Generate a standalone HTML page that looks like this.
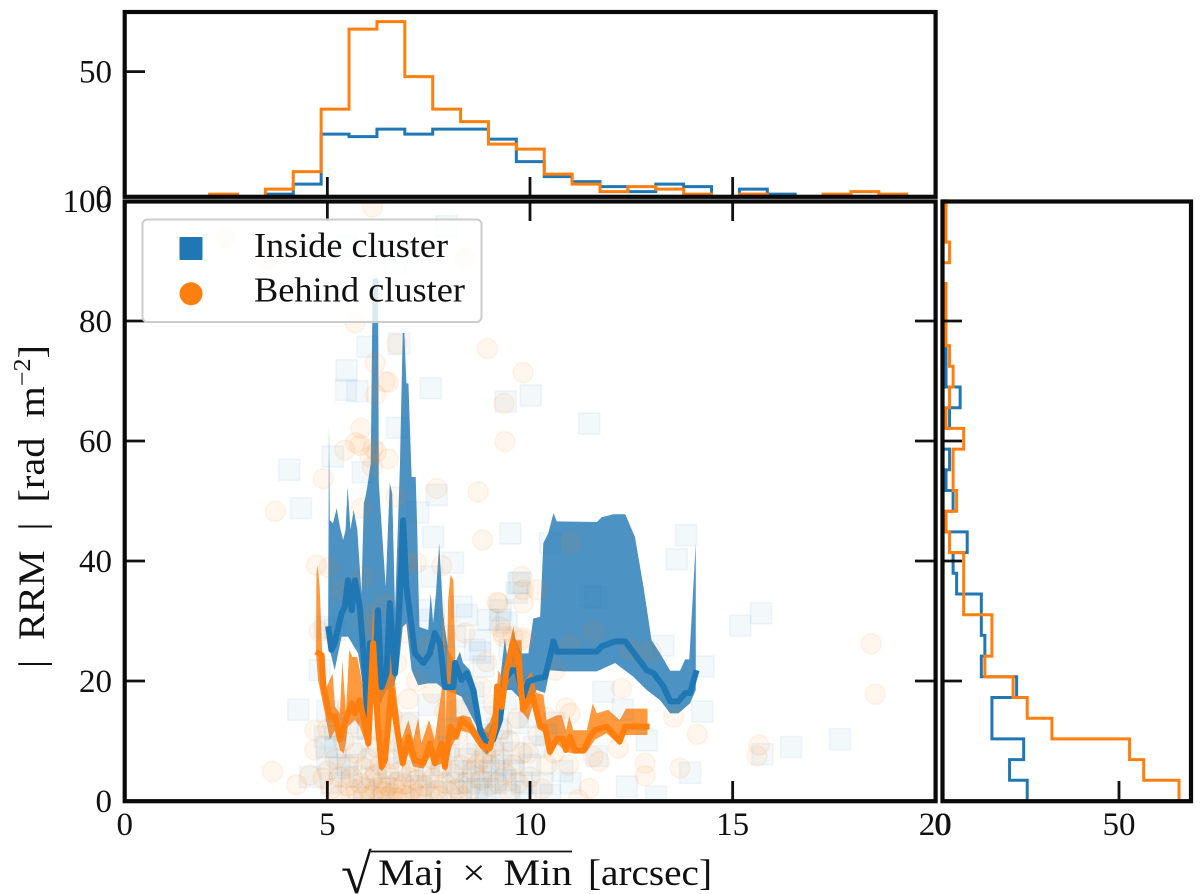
<!DOCTYPE html>
<html lang="en">
<head>
<meta charset="utf-8">
<title>RRM vs beam size</title>
<style>
html,body{margin:0;padding:0;background:#fff;}
svg{display:block;}
text{font-family:"Liberation Serif","DejaVu Serif",serif;fill:#111;}
</style>
</head>
<body>
<svg id="chart" xmlns="http://www.w3.org/2000/svg" width="1200" height="894" viewBox="0 0 1200 894">
  <defs>
    <clipPath id="main-clip"><rect x="124.7" y="201.5" width="810.9" height="599.5"/></clipPath>
  </defs>
  <rect x="0" y="0" width="1200" height="894" fill="#ffffff"/>
  <g id="scatter-band-layer" clip-path="url(#main-clip)"></g>
  <g id="hist-layer"></g>
  <g id="tick-layer"></g>
  <g fill="none" stroke="#0a0a0a" stroke-width="4.2">
    <rect x="124.7" y="12" width="810.9" height="184.8"/>
    <rect x="124.7" y="201.5" width="810.9" height="599.7"/>
    <rect x="942.5" y="201.5" width="248.5" height="599.7"/>
  </g>
  <g>
    <rect x="142.5" y="219.5" width="339" height="102.5" rx="5" ry="5" fill="#ffffff" fill-opacity="0.8" stroke="#cccccc" stroke-width="2"/>
    <rect x="179.5" y="237" width="23" height="23" rx="1" fill="#1f77b4"/>
    <circle cx="191" cy="293.7" r="11.5" fill="#ff7f0e"/>
    <text x="254" y="257" font-size="35" textLength="194" lengthAdjust="spacingAndGlyphs">Inside cluster</text>
    <text x="254" y="301.5" font-size="35" textLength="211" lengthAdjust="spacingAndGlyphs">Behind cluster</text>
  </g>
  <g id="label-layer"></g>
  <text transform="translate(44,668) rotate(-90)" font-size="37" word-spacing="9" textLength="323" lengthAdjust="spacingAndGlyphs">| RRM | [rad m<tspan font-size="24" dy="-14">−2</tspan><tspan dy="14">]</tspan></text>
  <g>
    <text x="341" y="893" font-size="56">√</text>
    <line x1="371" y1="851.5" x2="572" y2="851.5" stroke="#111" stroke-width="1.8"/>
    <text x="378" y="885" font-size="37" word-spacing="7" textLength="194" lengthAdjust="spacingAndGlyphs">Maj × Min</text>
    <text x="588" y="885" font-size="37" textLength="124" lengthAdjust="spacingAndGlyphs">[arcsec]</text>
  </g>
</svg>
<script>
// Axis tick values
const mainXTicks = [0, 5, 10, 15, 20];
const mainYTicks = [0, 20, 40, 60, 80, 100];
const topHistYTicks = [0, 50];
const rightHistXTicks = [0, 50];

// Top histogram (sqrt(Maj x Min)) bins: start, width and counts
const xBinStart = 2.095;
const xBinWidth = 0.688;
const topInsideCounts = [0,0,1,5,25,24,27,25,27,27,23,14,8,6,4,2,5,4,0,3,1,0,0,0,0];
const topBehindCounts = [1,0,3,10,35,67,70,48,35,30,21,19,9,5,2,4,3,1,0,1,0,0,1,2,1];

// Right histogram (|RRM|) bins
const yBinStart = 0;
const yBinWidth = 3.45;
const rightInsideCounts = [24,19,23,14,14,21,11,12,11,11,4,3,7,1,3,1,2,0,2,5,1,1,0,0,0,0,0,0,0];
const rightBehindCounts = [67,57,53,31,24,20,12,14,14,6,6,6,2,1,4,3,3,6,1,2,3,2,1,1,1,0,2,1,1];

// Rolling median [arcsec, RRM]
const insideMedian = [[5.02,29.1],[5.10,25.2],[5.18,26.3],[5.35,31.3],[5.43,32.4],[5.51,36.8],[5.60,31.8],[5.68,36.8],[5.80,32.4],[5.93,21.3],[5.99,12.4],[6.05,26.3],[6.17,19],[6.25,31.8],[6.34,19],[6.46,21.3],[6.54,33],[6.67,21.3],[6.77,31.3],[6.87,46.8],[6.95,35.7],[7.08,29.1],[7.16,24.6],[7.37,23],[7.53,24.6],[7.65,28],[7.78,26.3],[7.90,19],[8.11,19],[8.15,23],[8.31,20.2],[8.44,21.3],[8.60,18.5],[8.77,11.8],[8.93,9.6],[9.09,10.2],[9.26,13.5],[9.38,20.2],[9.55,21.8],[9.67,21.8],[9.83,17.4],[9.96,19.9],[10.16,20.4],[10.37,20.7],[10.49,24],[10.58,26.6],[10.66,24.9],[11.65,24.9],[11.77,25.8],[12.10,26.6],[12.35,26.6],[12.88,21.8],[13.05,21.3],[13.29,19.1],[13.46,16.6],[13.66,16.6],[13.83,18],[13.95,18],[14.11,21.8]];
const behindMedian = [[4.72,24.9],[4.86,24.3],[4.90,19.1],[5.06,14.1],[5.19,14.1],[5.31,10.2],[5.43,13],[5.51,14.6],[5.60,16.3],[5.68,14.6],[5.80,16.8],[6.01,9.6],[6.13,26.3],[6.25,12.4],[6.34,5.7],[6.42,6.8],[6.58,18.5],[6.71,12.4],[6.86,6.3],[7.0,10.7],[7.16,6.8],[7.37,6.3],[7.53,9.6],[7.65,6.3],[7.82,9.6],[7.90,5.7],[8.04,12.4],[8.17,10.7],[8.31,13.5],[8.52,12.4],[8.68,10.7],[8.81,9.3],[9.01,8.8],[9.14,12.4],[9.19,19.1],[9.30,15.7],[9.42,21.8],[9.57,26.3],[9.71,23.5],[9.83,15.2],[9.92,16.3],[10.07,17.4],[10.25,12.4],[10.37,12.4],[10.49,8.2],[10.66,10.4],[10.81,10.4],[10.89,8.5],[10.99,10.7],[11.11,8.4],[11.32,8.4],[11.48,10.7],[11.60,11.8],[11.89,12.4],[12.21,9.9],[12.35,12.4],[12.95,12.4]];

// Uncertainty bands: upper edge left to right, lower edge right to left
const insideUpper = [[5.02,29.1],[5.04,62.95],[5.06,46.8],[5.14,46.3],[5.23,48.8],[5.31,45.7],[5.39,43.5],[5.45,45.2],[5.50,52.4],[5.57,45.2],[5.65,48.5],[5.74,45.2],[5.84,34.6],[5.90,49.6],[5.95,51],[6.01,53.5],[6.07,56.3],[6.12,87.1],[6.25,87.1],[6.27,53],[6.34,45.7],[6.44,35.7],[6.54,53],[6.60,51.3],[6.67,31.8],[6.79,55.7],[6.86,78],[6.90,78],[6.95,69.6],[7.0,69.6],[7.08,54],[7.18,54],[7.22,44.6],[7.27,29],[7.49,28.5],[7.55,34.6],[7.61,29.6],[7.68,34.6],[7.76,43],[7.86,30.7],[7.98,25.2],[8.15,23],[8.27,24.9],[8.35,23],[8.52,21.8],[8.68,18.5],[8.81,12.4],[8.97,11.3],[9.09,13.5],[9.18,14.6],[9.30,22.4],[9.38,27.1],[9.47,22.4],[9.57,28.2],[9.79,24.6],[9.96,24.6],[10.08,30.4],[10.25,30.7],[10.33,43],[10.45,44.6],[10.58,48],[10.66,46.6],[11.65,46.5],[11.77,47.3],[12.06,47.8],[12.35,47.8],[12.59,44],[12.80,35.7],[13.0,26.8],[13.21,24.6],[13.46,21.7],[13.70,21.7],[13.83,23.6],[13.93,23.6],[14.09,43]];
const insideLower = [[14.09,18.5],[13.95,16.3],[13.66,14.6],[13.46,14.6],[13.21,16.8],[12.88,18.5],[12.55,20.7],[12.10,23],[11.65,21.6],[10.82,21.6],[10.49,21.8],[10.37,18],[10.16,18.5],[9.92,15.7],[9.71,17.4],[9.55,18.5],[9.34,18.5],[9.22,11.8],[9.05,9.3],[8.93,7.7],[8.77,11.3],[8.52,14.6],[8.31,17.4],[8.11,18],[7.90,18.5],[7.70,19.6],[7.49,19.6],[7.24,19.3],[7.08,21.8],[6.95,29.6],[6.86,29],[6.75,21.8],[6.63,19],[6.46,18.5],[6.34,16.8],[6.21,14.6],[6.13,16.3],[6.03,15.7],[5.98,11.8],[5.88,19],[5.76,24.6],[5.51,27.4],[5.35,27.4],[5.18,21.8],[5.06,25.2]];
const behindUpper = [[4.73,37.7],[4.76,39.3],[4.81,35.7],[4.88,23.5],[4.98,19],[5.13,21.3],[5.19,15.7],[5.31,14.6],[5.37,23.5],[5.46,14.6],[5.54,25.2],[5.62,24],[5.74,24],[5.88,19],[6.01,12.4],[6.13,33],[6.21,20.2],[6.42,19.6],[6.56,25.7],[6.67,19.6],[6.83,10.2],[7.0,13.5],[7.12,10.2],[7.24,13.8],[7.32,9.6],[7.51,13.5],[7.65,10.2],[7.83,19],[7.88,34],[7.92,11.8],[7.98,33.5],[8.04,37.7],[8.11,36.8],[8.15,25.7],[8.19,14],[8.35,14.3],[8.52,14],[8.68,11.8],[8.85,11.8],[9.01,13.2],[9.14,15.7],[9.22,21.8],[9.34,20.2],[9.51,26.8],[9.59,29.1],[9.65,26.8],[9.79,26.8],[9.83,19.6],[10.04,21.6],[10.16,18],[10.33,17.7],[10.41,13.5],[10.66,14.3],[10.78,14.3],[10.89,11.8],[10.97,14.1],[11.07,11.8],[11.40,11.8],[11.55,16.3],[11.65,14.6],[11.93,15.2],[12.21,13.5],[12.37,15.4],[12.90,15.4]];
const behindLower = [[12.90,11],[12.35,11],[12.21,9.3],[11.89,11.3],[11.6,10.2],[11.4,8.2],[11.07,7.9],[10.89,8.2],[10.66,9.6],[10.49,7.4],[10.37,11.3],[10.23,11.9],[10.08,16.3],[9.96,13.5],[9.83,14.6],[9.75,17.4],[9.59,21.8],[9.42,19],[9.30,13.5],[9.18,14.6],[9.01,8.2],[8.93,7.7],[8.77,8.8],[8.52,11.3],[8.27,11.8],[8.07,9.1],[7.92,4.9],[7.82,6.3],[7.65,5.7],[7.53,7.4],[7.37,5.4],[7.12,5.7],[7.0,7.9],[6.86,5.4],[6.71,10.2],[6.58,14.6],[6.46,6.3],[6.34,4.9],[6.25,7.4],[6.13,16.8],[6.01,8.5],[5.80,12.4],[5.68,13.5],[5.51,12.4],[5.41,7.9],[5.31,8.5],[5.19,11.8],[5.06,10.2],[4.94,14.6],[4.77,20.2],[4.72,24.6]];

// Individual sources [arcsec, RRM]
const insidePoints = [[7.94,95.8],[5.47,92.4],[6.67,89.7],[5.99,75.7],[6.77,76.2],[5.47,71.8],[5.46,68.5],[5.74,68.3],[7.55,68.8],[9.40,66.6],[10.02,67.6],[11.46,62.9],[6.72,62.2],[5.14,57.4],[4.06,55.2],[5.87,54.8],[7.70,51],[4.35,48.8],[7.24,48.1],[7.61,44],[9.52,44.6],[8.10,39.7],[10.49,43],[13.85,44.3],[13.62,40.3],[11.63,33.9],[13.29,25.9],[14.28,22.4],[14.25,14.9],[12.88,10.1],[11.81,18.2],[12.29,15.2],[11.65,7.5],[12.39,2.4],[13.11,0.7],[13.95,4.7],[9.75,36.4],[9.67,34.7],[9.26,30.2],[9.42,29.7],[15.19,29.2],[15.7,31.3],[15.73,7.8],[16.44,9],[17.65,10.3],[8.31,32.4],[8.44,31],[8.97,30.2],[9.28,31.8],[9.71,36.3],[7.57,37.4],[4.81,21.8],[11.48,34.2],[4.28,15.2],[4.57,4],[4.94,10.7],[4.98,9],[8.77,26.8],[8.15,27.4],[8.85,22.4],[8.77,24.7],[7.53,30.2],[8.64,25.2],[9.5,25.2],[5.19,28.5],[4.94,29],[7.45,31.8],[5.0,7],[5.2,9],[5.3,5.5],[5.1,3],[5.5,6],[5.7,9],[5.6,4],[5.9,2],[6.1,7],[6.2,4],[6.4,2],[6.5,5.5],[6.8,3],[6.9,8],[7.1,5],[7.3,2.5],[7.5,4],[7.7,1.5],[7.8,6],[8.0,9],[8.1,3],[8.2,5],[8.3,1.5],[8.4,7],[8.5,3],[8.6,5],[8.7,2],[8.8,4],[8.9,6.5],[8.9,1],[9.1,8],[9.1,5],[9.3,10],[9.3,6],[9.4,3.5],[9.5,1],[9.6,8],[9.6,5],[9.8,3],[9.9,1.5],[10.0,6],[10.1,9],[10.3,3],[10.5,1],[10.6,13],[10.8,5],[11.0,3],[6,12],[6.5,10],[7,13],[7.5,16],[8,12],[8.3,15],[8.6,18],[9,14],[9.4,17],[9.7,13],[10,14],[10.4,11],[8.7,9.5],[8.9,11],[9.2,12],[5.5,13],[5.0,15],[5.2,12],[8.95,2],[9.15,3]];
const behindPoints = [[2.47,93.8],[3.5,90.2],[6.11,99],[8.4,90.5],[5.68,79.7],[8.95,75.4],[9.83,71.4],[9.36,66.3],[9.38,59.9],[6.71,76.2],[6.18,73],[6.5,69.8],[6.42,69.9],[6.19,67.7],[5.83,62.1],[5.7,59.7],[5.8,59.3],[5.43,58.5],[6.13,58.8],[6.21,58.2],[6.05,57.4],[6.5,57],[6.11,55.7],[4.9,53.7],[8.72,51.5],[7.7,52.1],[6.69,50.7],[5.84,48.8],[3.72,48.3],[8.83,43.5],[11.0,43.1],[12.26,18.8],[13.54,14],[14.13,11.1],[13.7,5.5],[12.84,6.3],[12.84,4.2],[11.46,2.1],[11.19,0.2],[10.89,15.5],[10.99,14.6],[11.56,28.2],[10.99,26],[12.47,25.2],[12.98,24.9],[10.62,21.8],[9.7,13.8],[9.96,8],[10.41,6],[10.95,6],[11.56,7.4],[11.71,6.6],[12.18,8.8],[9.8,37.4],[9.83,35.2],[10.17,35.2],[9.22,33],[9.83,33],[9.33,28],[9.58,27.4],[9.8,26.8],[4.73,39.3],[5.04,38.9],[4.89,3.8],[4.24,2.7],[4.69,11.8],[4.69,8.5],[4.57,4.3],[3.65,4.9],[4.8,28.3],[5.35,35.2],[5.88,37.4],[6.96,39.7],[7.2,39.7],[7.82,39.2],[9.19,33.1],[9.26,29],[8.4,28],[8.93,23.2],[9.34,27.4],[9.83,27.2],[6.05,31],[6.42,32.7],[6.86,28],[7.45,25.7],[5.97,29.6],[6.12,27.4],[6.71,23],[18.42,26.2],[18.52,17.8],[15.65,9.3],[15.6,7.5],[5.0,5],[5.1,2],[5.2,7],[5.3,4],[5.3,1],[5.4,10],[5.5,6],[5.5,2.5],[5.6,0.8],[5.6,4],[5.7,8],[5.7,1.8],[5.8,3],[5.8,12],[5.9,5.5],[5.9,0.7],[6.0,2],[6.0,7],[6.1,3.5],[6.1,1],[6.2,9],[6.2,4.5],[6.2,1.8],[6.3,0.6],[6.3,3],[6.3,6],[6.4,1.5],[6.4,11],[6.5,2.5],[6.5,0.7],[6.5,4.5],[6.6,1.2],[6.6,7],[6.7,3],[6.7,0.5],[6.7,1.9],[6.8,5],[6.8,9],[6.9,1],[6.9,2.8],[7.0,4],[7.0,0.6],[7.0,13],[7.1,2],[7.1,6.5],[7.2,1.2],[7.2,3.5],[7.3,8],[7.3,0.8],[7.4,5],[7.4,2.5],[7.5,1.2],[7.5,11],[7.6,3.8],[7.6,7],[7.7,1.8],[7.8,5.5],[7.8,0.8],[7.9,3],[7.9,15],[8.0,8],[8.0,1.5],[8.1,4.5],[8.2,2],[8.2,11],[8.3,6],[8.3,0.8],[8.4,3],[8.5,8],[8.5,1.5],[8.6,5],[8.7,6],[8.8,7],[8.8,3.5],[8.9,8],[9.0,6],[9.0,2.5],[9.1,9],[9.2,3],[9.3,7],[9.3,12],[9.4,4.5],[9.5,10],[9.5,1.5],[9.6,6],[9.7,3],[9.8,8],[10,4],[10.2,11],[10.3,2],[10.6,8],[6,15],[6.3,18],[6.6,14],[7,17],[7.2,20],[7.6,18],[8,22],[8.4,16],[8.8,19],[9.1,16],[5.5,16],[5.2,14],[5.0,12],[9.6,21],[10,18],[10.4,14]];

const NS = 'http://www.w3.org/2000/svg';
const BLUE = '#1f77b4';
const ORANGE = '#ff7f0e';

// Axis functions
function xMain(v) { return 124.7 + v * 40.53; }
function yMain(v) { return 801 - v * 6.0; }
function yTop(v) { return 196.6 - v * 2.5; }
function xRight(v) { return 942.5 + v * 3.53; }

function make(tag, parent, attrs) {
  const el = document.createElementNS(NS, tag);
  for (const k in attrs) el.setAttribute(k, attrs[k]);
  parent.appendChild(el);
  return el;
}
function polyPath(points) {
  return points.map((p, i) => (i ? 'L' : 'M') + xMain(p[0]).toFixed(2) + ' ' + yMain(p[1]).toFixed(2)).join('');
}

const markLayer = document.getElementById('scatter-band-layer');
const histLayer = document.getElementById('hist-layer');
const tickLayer = document.getElementById('tick-layer');
const labelLayer = document.getElementById('label-layer');

// Bands
const bandInside = make('path', markLayer, { d: polyPath(insideUpper.concat(insideLower)) + 'Z', fill: BLUE, 'fill-opacity': 0.8 });


const bandBehind = make('path', markLayer, { d: polyPath(behindUpper.concat(behindLower)) + 'Z', fill: ORANGE, 'fill-opacity': 0.8 });



// Scatter
insidePoints.forEach(function (p) {
  const sq = make('rect', markLayer, { x: xMain(p[0]) - 10.5, y: yMain(p[1]) - 10.5, width: 21, height: 21, fill: BLUE, 'fill-opacity': 0.055, stroke: BLUE, 'stroke-opacity': 0.06, 'stroke-width': 1.6 });
  
  
});
behindPoints.forEach(function (p) {
  const c = make('circle', markLayer, { cx: xMain(p[0]), cy: yMain(p[1]), r: 10, fill: ORANGE, 'fill-opacity': 0.07, stroke: ORANGE, 'stroke-opacity': 0.08, 'stroke-width': 1.6 });
  
  
});

// Median lines
const lineInside = make('path', markLayer, { d: polyPath(insideMedian), fill: 'none', stroke: BLUE, 'stroke-width': 6, 'stroke-linejoin': 'round' });


const lineBehind = make('path', markLayer, { d: polyPath(behindMedian), fill: 'none', stroke: ORANGE, 'stroke-width': 6, 'stroke-linejoin': 'round' });



// Histograms
function topStep(counts) {
  let d = 'M' + xMain(xBinStart).toFixed(2) + ' ' + yTop(0);
  counts.forEach(function (c, i) {
    const a = xMain(xBinStart + i * xBinWidth).toFixed(2);
    const b = xMain(xBinStart + (i + 1) * xBinWidth).toFixed(2);
    d += 'L' + a + ' ' + yTop(c).toFixed(2) + 'L' + b + ' ' + yTop(c).toFixed(2);
  });
  return d + 'L' + xMain(xBinStart + counts.length * xBinWidth).toFixed(2) + ' ' + yTop(0);
}
function rightStep(counts) {
  let d = 'M' + xRight(0) + ' ' + yMain(yBinStart);
  counts.forEach(function (c, i) {
    const a = yMain(yBinStart + i * yBinWidth).toFixed(2);
    const b = yMain(yBinStart + (i + 1) * yBinWidth).toFixed(2);
    d += 'L' + xRight(c).toFixed(2) + ' ' + a + 'L' + xRight(c).toFixed(2) + ' ' + b;
  });
  return d + 'L' + xRight(0) + ' ' + yMain(yBinStart + counts.length * yBinWidth).toFixed(2);
}
const histTopInside = make('path', histLayer, { d: topStep(topInsideCounts), fill: 'none', stroke: BLUE, 'stroke-width': 3 });


const histTopBehind = make('path', histLayer, { d: topStep(topBehindCounts), fill: 'none', stroke: ORANGE, 'stroke-width': 3 });


const histRightInside = make('path', histLayer, { d: rightStep(rightInsideCounts), fill: 'none', stroke: BLUE, 'stroke-width': 3 });


const histRightBehind = make('path', histLayer, { d: rightStep(rightBehindCounts), fill: 'none', stroke: ORANGE, 'stroke-width': 3 });



// Ticks
function tick(x1, y1, x2, y2) {
  const t = make('line', tickLayer, { x1: x1, y1: y1, x2: x2, y2: y2, stroke: '#111', 'stroke-width': 2.8 });
  
  
}
mainXTicks.slice(1, -1).forEach(function (v) {
  tick(xMain(v), 177, xMain(v), 197);
  tick(xMain(v), 201, xMain(v), 221);
  tick(xMain(v), 781, xMain(v), 801);
});
mainYTicks.slice(1, -1).forEach(function (v) {
  tick(124.7, yMain(v), 145, yMain(v));
  tick(915, yMain(v), 935.6, yMain(v));
  tick(942.5, yMain(v), 962, yMain(v));
});
topHistYTicks.slice(1).forEach(function (v) { tick(124.7, yTop(v), 145, yTop(v)); });
rightHistXTicks.slice(1).forEach(function (v) { tick(xRight(v), 781, xRight(v), 801); });

// Tick labels
function label(txt, x, y, anchor) {
  const t = make('text', labelLayer, { x: x, y: y, 'text-anchor': anchor, 'font-size': 33 });
  t.textContent = txt;
  
  
}
mainXTicks.forEach(function (v) { label(String(v), xMain(v), 835, 'middle'); });
mainYTicks.forEach(function (v) { label(String(v), 112, yMain(v) + 11, 'end'); });
topHistYTicks.forEach(function (v) { label(String(v), 112, yTop(v) + 11, 'end'); });
rightHistXTicks.forEach(function (v) { label(String(v), xRight(v), 835, 'middle'); });
</script>
</body>
</html>
